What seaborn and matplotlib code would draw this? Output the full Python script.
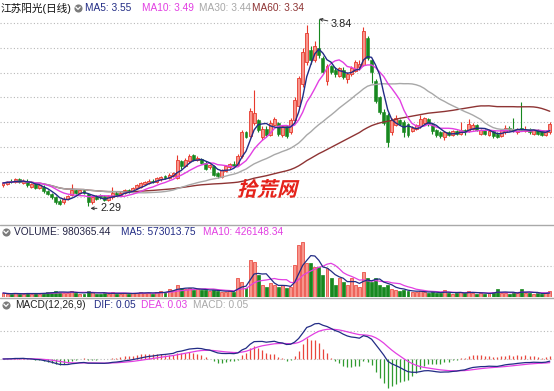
"""Daily candlestick chart of 江苏阳光 with volume and MACD panes."""

import numpy as np
import pandas as pd
import matplotlib
matplotlib.use("Agg")
import matplotlib.pyplot as plt
import seaborn as sns
from matplotlib.font_manager import FontProperties
from matplotlib.patches import PathPatch
from matplotlib.textpath import TextPath
from matplotlib.transforms import Affine2D

# ---- daily bars, oldest first ----
opens = [
    2.46, 2.47, 2.50, 2.49, 2.51, 2.48, 2.50, 2.45, 2.47, 2.44,
    2.45, 2.41, 2.39, 2.36, 2.33, 2.32, 2.35, 2.38, 2.42, 2.40,
    2.42, 2.39, 2.32, 2.37, 2.38, 2.37, 2.34, 2.36, 2.40, 2.38,
    2.40, 2.42, 2.41, 2.44, 2.45, 2.47, 2.48, 2.50, 2.49, 2.51,
    2.54, 2.52, 2.54, 2.52, 2.66, 2.62, 2.66, 2.71, 2.67, 2.68,
    2.65, 2.61, 2.62, 2.56, 2.53, 2.58, 2.61, 2.64, 2.63, 2.70,
    2.90, 2.87, 2.98, 3.00, 2.86, 2.93, 2.88, 2.96, 2.98, 2.88,
    2.95, 2.90, 3.00, 3.12, 3.30, 3.48, 3.58, 3.50, 3.60, 3.52,
    3.33, 3.45, 3.42, 3.37, 3.42, 3.34, 3.38, 3.41, 3.44, 3.46,
    3.68, 3.50, 3.33, 3.19, 3.07, 3.04, 2.90, 2.96, 3.00, 2.99,
    2.97, 2.91, 2.93, 2.95, 2.98, 3.01, 2.97, 2.92, 2.90, 2.86,
    2.90, 2.88, 2.91, 2.89, 2.92, 2.91, 2.93, 2.96, 2.89, 2.92,
    2.88, 2.91, 2.89, 2.87, 2.90, 2.94, 2.93, 2.90, 2.94, 2.91,
    2.93, 2.89, 2.92, 2.91, 2.88, 2.90,
]
closes = [
    2.48, 2.49, 2.49, 2.51, 2.49, 2.50, 2.46, 2.47, 2.44, 2.46,
    2.41, 2.39, 2.36, 2.32, 2.31, 2.35, 2.37, 2.42, 2.40, 2.42,
    2.40, 2.32, 2.36, 2.35, 2.36, 2.34, 2.37, 2.40, 2.38, 2.40,
    2.42, 2.41, 2.44, 2.46, 2.48, 2.49, 2.50, 2.49, 2.52, 2.53,
    2.52, 2.55, 2.56, 2.67, 2.62, 2.67, 2.70, 2.67, 2.69, 2.65,
    2.60, 2.63, 2.55, 2.54, 2.59, 2.62, 2.64, 2.62, 2.70, 2.90,
    2.86, 3.08, 3.06, 2.92, 2.93, 2.88, 2.98, 3.01, 2.89, 2.95,
    2.87, 3.00, 3.17, 3.35, 3.57, 3.72, 3.50, 3.62, 3.54, 3.40,
    3.45, 3.40, 3.38, 3.43, 3.36, 3.38, 3.43, 3.48, 3.47, 3.74,
    3.52, 3.40, 3.16, 3.07, 2.98, 2.82, 3.00, 3.02, 2.97, 2.90,
    2.88, 2.94, 2.96, 3.01, 3.02, 2.97, 2.91, 2.88, 2.87, 2.90,
    2.88, 2.91, 2.89, 2.92, 2.90, 2.97, 2.96, 2.92, 2.92, 2.89,
    2.91, 2.87, 2.86, 2.92, 2.94, 2.92, 2.91, 2.93, 2.92, 2.93,
    2.90, 2.92, 2.89, 2.88, 2.91, 2.97,
]
highs = [
    2.49, 2.50, 2.51, 2.52, 2.52, 2.51, 2.51, 2.48, 2.48, 2.47,
    2.46, 2.42, 2.40, 2.37, 2.35, 2.36, 2.38, 2.47, 2.43, 2.43,
    2.43, 2.40, 2.37, 2.38, 2.39, 2.38, 2.38, 2.45, 2.41, 2.41,
    2.43, 2.43, 2.45, 2.47, 2.49, 2.50, 2.51, 2.51, 2.53, 2.54,
    2.55, 2.56, 2.57, 2.71, 2.67, 2.69, 2.72, 2.72, 2.70, 2.69,
    2.66, 2.64, 2.63, 2.57, 2.60, 2.63, 2.65, 2.66, 2.72, 2.92,
    2.91, 3.10, 3.25, 3.01, 2.95, 2.95, 3.00, 3.03, 2.99, 2.96,
    2.96, 3.02, 3.19, 3.37, 3.60, 3.79, 3.62, 3.66, 3.84, 3.53,
    3.47, 3.46, 3.44, 3.44, 3.44, 3.40, 3.45, 3.50, 3.50, 3.77,
    3.70, 3.51, 3.34, 3.20, 3.09, 3.06, 3.02, 3.04, 3.01, 3.00,
    2.98, 2.95, 2.97, 3.04, 3.03, 3.02, 2.98, 2.93, 2.91, 2.91,
    2.91, 2.92, 2.92, 2.99, 2.93, 3.01, 2.98, 2.97, 2.93, 2.93,
    2.92, 2.92, 2.90, 2.93, 2.96, 2.95, 3.02, 2.94, 3.15, 2.95,
    2.94, 2.93, 2.93, 2.92, 2.92, 2.99,
]
lows = [
    2.45, 2.46, 2.48, 2.48, 2.48, 2.47, 2.45, 2.44, 2.43, 2.43,
    2.40, 2.38, 2.35, 2.31, 2.30, 2.31, 2.34, 2.37, 2.39, 2.39,
    2.39, 2.29, 2.31, 2.34, 2.35, 2.33, 2.33, 2.35, 2.37, 2.37,
    2.39, 2.40, 2.40, 2.43, 2.44, 2.46, 2.47, 2.48, 2.48, 2.50,
    2.51, 2.51, 2.53, 2.51, 2.60, 2.61, 2.65, 2.66, 2.66, 2.64,
    2.59, 2.60, 2.54, 2.52, 2.52, 2.57, 2.60, 2.61, 2.62, 2.69,
    2.85, 2.86, 2.96, 2.90, 2.84, 2.86, 2.87, 2.95, 2.87, 2.86,
    2.85, 2.89, 2.99, 3.10, 3.28, 3.46, 3.47, 3.48, 3.52, 3.38,
    3.29, 3.38, 3.36, 3.36, 3.34, 3.31, 3.37, 3.40, 3.42, 3.45,
    3.50, 3.31, 3.14, 3.05, 2.96, 2.78, 2.88, 2.95, 2.96, 2.86,
    2.86, 2.90, 2.92, 2.94, 2.97, 2.95, 2.89, 2.86, 2.85, 2.84,
    2.87, 2.87, 2.88, 2.88, 2.88, 2.90, 2.92, 2.91, 2.88, 2.88,
    2.87, 2.85, 2.85, 2.86, 2.89, 2.91, 2.90, 2.89, 2.91, 2.90,
    2.89, 2.88, 2.88, 2.87, 2.87, 2.89,
]
# volume in thousands of shares
volumes = [
    72, 54, 54, 72, 54, 58, 72, 54, 70, 56,
    72, 90, 88, 108, 92, 72, 75, 110, 70, 56,
    58, 110, 90, 56, 58, 72, 56, 92, 58, 55,
    72, 56, 74, 72, 90, 72, 74, 56, 90, 108,
    90, 144, 126, 216, 162, 144, 162, 126, 144, 126,
    126, 108, 126, 108, 90, 92, 108, 90, 342, 270,
    162, 666, 630, 396, 216, 180, 252, 216, 180, 216,
    162, 180, 576, 936, 990, 612, 612, 540, 540, 396,
    522, 342, 216, 342, 270, 216, 342, 216, 180, 450,
    342, 270, 342, 216, 180, 216, 144, 126, 108, 126,
    108, 90, 90, 108, 90, 72, 90, 72, 72, 126,
    72, 54, 72, 90, 72, 108, 72, 54, 72, 54,
    72, 90, 144, 72, 72, 54, 90, 72, 144, 72,
    72, 54, 72, 54, 72, 108,
]

# header texts as printed on the chart
title = "江苏阳光(日线)"
price_labels = ["MA5: 3.55", "MA10: 3.49", "MA30: 3.44", "MA60: 3.34"]
volume_labels = ["VOLUME: 980365.44", "MA5: 573013.75", "MA10: 426148.34"]
macd_labels = ["MACD(12,26,9)", "DIF: 0.05", "DEA: 0.03", "MACD: 0.05"]

# colours
RED_EDGE = "#e8392d"
RED_FILL = "#f7958c"
GREEN = "#17881f"
NAVY = "#222c85"
MAGENTA = "#e23fe2"
GRAY = "#a8a8a8"
BROWN = "#8e3434"
GRID = "#b8b8b8"

W, H = 554, 391          # output size in pixels
X0, STEP = 3, 4.05       # pixel x of first candle, spacing between candles
HEAD_FS = 7.3

sns.set_theme(style="white")
plt.rcParams["font.family"] = ["Liberation Sans", "Noto Sans CJK SC", "DejaVu Sans"]

df = pd.DataFrame(dict(open=opens, high=highs, low=lows, close=closes, volume=volumes))
df["idx"] = np.arange(len(df))
for n in (5, 10, 30, 60):
    df[f"ma{n}"] = df["close"].rolling(n, min_periods=1).mean()
df["vma5"] = df["volume"].rolling(5, min_periods=1).mean()
df["vma10"] = df["volume"].rolling(10, min_periods=1).mean()
ema12 = df["close"].ewm(span=12, adjust=False).mean()
ema26 = df["close"].ewm(span=26, adjust=False).mean()
df["dif"] = ema12 - ema26
df["dea"] = df["dif"].ewm(span=9, adjust=False).mean()
df["hist"] = 2 * (df["dif"] - df["dea"])
up = (df["close"] >= df["open"]).to_numpy()

fig = plt.figure(figsize=(W / 100, H / 100), dpi=100)


def pane(top, bottom):
    ax = fig.add_axes([0, 1 - bottom / H, 1, (bottom - top) / H])
    ax.set_xlim(-X0 / STEP, (W - X0) / STEP)
    ax.axis("off")
    return ax


def dotted_rows(ax, top, bottom, rows):
    lo, hi = ax.get_ylim()
    for y in rows:
        frac = (bottom - y) / (bottom - top)
        ax.axhline(lo + frac * (hi - lo), color=GRID, lw=0.8,
                   linestyle=(0, (1, 2)), zorder=0)


# ---- price pane ----
P_TOP, P_BOT = 0, 222
ax_p = pane(P_TOP, P_BOT)
px_per_unit = 120.6
hmax = df["high"].max()
ax_p.set_ylim(hmax - (P_BOT - 19) / px_per_unit, hmax + 19 / px_per_unit)
dotted_rows(ax_p, P_TOP, P_BOT, [23, 48, 73, 97, 122, 147, 172, 197])

wick_colors = np.where(up, RED_EDGE, GREEN)
ax_p.vlines(df["idx"], df["low"], df["high"], colors=wick_colors, lw=0.8, zorder=1)
body_lo = np.minimum(df["open"], df["close"])
body_h = np.maximum((df["close"] - df["open"]).abs(), 0.005)
ax_p.bar(df["idx"][up], body_h[up], bottom=body_lo[up], width=0.72,
         color=RED_FILL, edgecolor=RED_EDGE, linewidth=0.6, zorder=2)
ax_p.bar(df["idx"][~up], body_h[~up], bottom=body_lo[~up], width=0.72,
         color=GREEN, edgecolor=GREEN, linewidth=0.4, zorder=2)

for col, color in [("ma60", BROWN), ("ma30", GRAY), ("ma10", MAGENTA), ("ma5", NAVY)]:
    sns.lineplot(data=df, x="idx", y=col, ax=ax_p, color=color, lw=1.0, zorder=3)
ax_p.axis("off")

imax = int(df["high"].idxmax())
ax_p.annotate(f"{hmax:.2f}", xy=(imax, hmax), xytext=(imax + 3.0, hmax - 0.04),
              fontsize=HEAD_FS + 0.5, color="#222222", va="center", ha="left",
              arrowprops=dict(arrowstyle="->", color="#333333", lw=0.7,
                              mutation_scale=5, shrinkA=0, shrinkB=0))
imin = int(df["low"].idxmin())
lmin = df["low"].min()
ax_p.annotate(f"{lmin:.2f}", xy=(imin + 0.6, lmin - 0.02), xytext=(imin + 3.0, lmin - 0.02),
              fontsize=HEAD_FS + 0.5, color="#222222", va="center", ha="left",
              arrowprops=dict(arrowstyle="->", color="#333333", lw=0.7,
                              mutation_scale=5, shrinkA=0, shrinkB=0))

# ---- volume pane ----
V_TOP, V_BOT = 238, 297
ax_v = pane(V_TOP, V_BOT)
ax_v.set_ylim(0, df["volume"].max() * (V_BOT - V_TOP) / 55)
dotted_rows(ax_v, V_TOP, V_BOT, [266])
ax_v.bar(df["idx"], df["volume"], width=0.72,
         color=np.where(up, RED_FILL, GREEN), edgecolor=np.where(up, RED_EDGE, GREEN),
         linewidth=0.5, zorder=2)
sns.lineplot(data=df, x="idx", y="vma10", ax=ax_v, color=MAGENTA, lw=0.9, zorder=3)
sns.lineplot(data=df, x="idx", y="vma5", ax=ax_v, color=NAVY, lw=0.9, zorder=3)
ax_v.axis("off")

# ---- MACD pane ----
M_TOP, M_BOT, M_ZERO = 310, 391, 359
ax_m = pane(M_TOP, M_BOT)
# DIF peak ~42 px above zero, DIF trough ~19 px below, histogram trough ~29 px below
unit = max(df["dif"].max() / 42, -df["dif"].min() / 19, -df["hist"].min() / 29)
ax_m.vlines(df["idx"], 0, df["hist"], lw=0.9,
            colors=np.where(df["hist"] >= 0, "#e9463d", "#2f9b2f"), zorder=2)
sns.lineplot(data=df, x="idx", y="dea", ax=ax_m, color=MAGENTA, lw=0.9, zorder=3)
sns.lineplot(data=df, x="idx", y="dif", ax=ax_m, color=NAVY, lw=0.9, zorder=3)
ax_m.set_ylim(-(M_BOT - M_ZERO) * unit, (M_ZERO - M_TOP) * unit)
dotted_rows(ax_m, M_TOP, M_BOT, [331, M_ZERO])
ax_m.axis("off")

# ---- overlay in pixel coordinates for headers and separators ----
ov = fig.add_axes([0, 0, 1, 1], zorder=10)
ov.set_xlim(0, W)
ov.set_ylim(H, 0)
ov.axis("off")

for y in (224.5, 297.5):
    ov.plot([0, W], [y, y], color="#a9a9a9", lw=1.0)


def icon(x, y):
    ov.scatter([x], [y], s=34, color="#7b7b7b", linewidths=0)
    ov.plot([x - 2.2, x, x + 2.2], [y - 1.0, y + 1.3, y - 1.0], color="white", lw=0.9)


ov.text(1, 8, title, fontsize=HEAD_FS + 0.4, color="#111111", va="center", ha="left")
icon(78, 8)
for text, x, color in zip(price_labels, [85, 142, 199, 252], [NAVY, MAGENTA, GRAY, BROWN]):
    ov.text(x, 8, text, fontsize=HEAD_FS, color=color, va="center", ha="left")

icon(6, 232)
for text, x, color in zip(volume_labels, [14, 121, 203], ["#222244", NAVY, MAGENTA]):
    ov.text(x, 232, text, fontsize=HEAD_FS, color=color, va="center", ha="left")

icon(6, 305)
for text, x, color in zip(macd_labels, [15, 94, 141, 193], ["#222222", NAVY, MAGENTA, GRAY]):
    ov.text(x, 305, text, fontsize=HEAD_FS, color=color, va="center", ha="left")

# slanted red watermark
wm = TextPath((0, 0), "拾荒网", size=20,
              prop=FontProperties(family="Noto Sans CJK SC", weight="bold"))
wm_tf = Affine2D().skew_deg(14, 0).scale(1, -1).translate(237, 196) + ov.transData
ov.add_patch(PathPatch(wm, transform=wm_tf, color="#e5231b", lw=0))

fig.savefig("out.png", dpi=100)
